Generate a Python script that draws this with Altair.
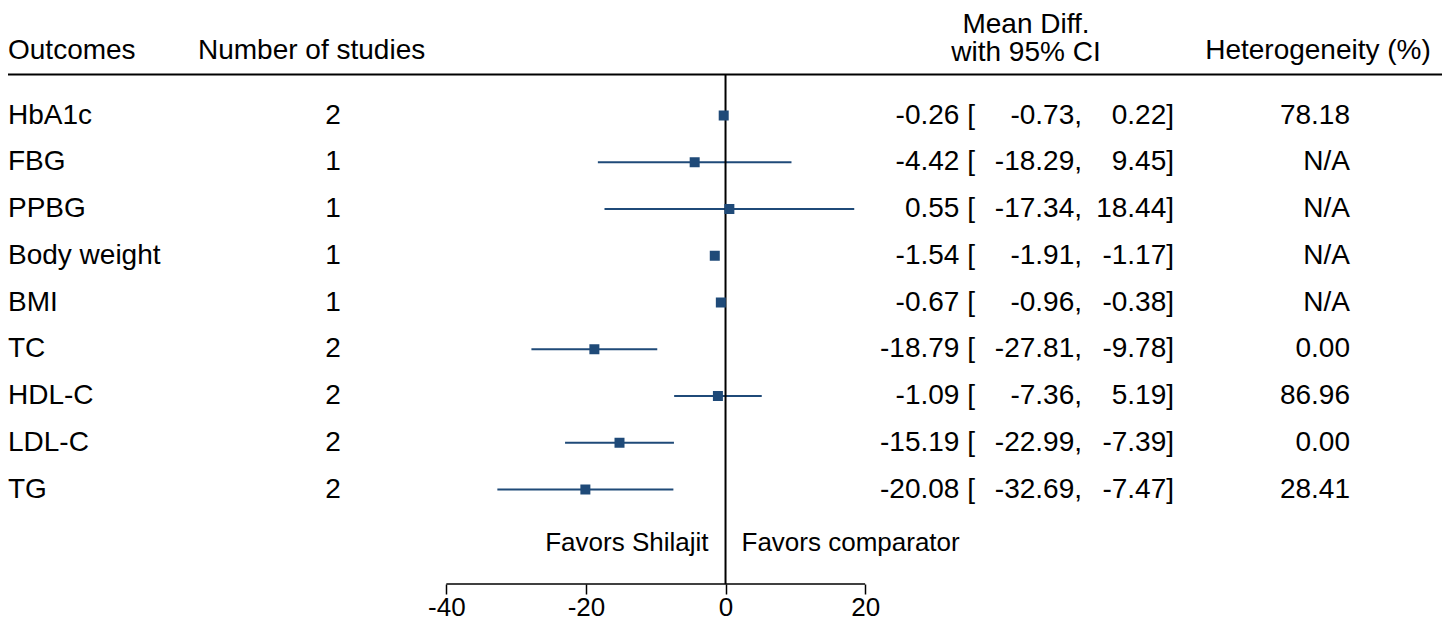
import altair as alt
import pandas as pd

# ---- data ----
outcomes = ["HbA1c", "FBG", "PPBG", "Body weight", "BMI", "TC", "HDL-C", "LDL-C", "TG"]
n_studies = [2, 1, 1, 1, 1, 2, 2, 2, 2]
mean_diff = [-0.26, -4.42, 0.55, -1.54, -0.67, -18.79, -1.09, -15.19, -20.08]
ci_low = [-0.73, -18.29, -17.34, -1.91, -0.96, -27.81, -7.36, -22.99, -32.69]
ci_high = [0.22, 9.45, 18.44, -1.17, -0.38, -9.78, 5.19, -7.39, -7.47]
heterogeneity = ["78.18", "N/A", "N/A", "N/A", "N/A", "0.00", "86.96", "0.00", "28.41"]
axis_ticks = [-40, -20, 0, 20]
favors_left = "Favors Shilajit"
favors_right = "Favors comparator"

df = pd.DataFrame({
    "outcome": outcomes,
    "n": [str(v) for v in n_studies],
    "md": mean_diff,
    "lo": ci_low,
    "hi": ci_high,
    "het": heterogeneity,
})
df["md_txt"] = [f"{v:.2f} [" for v in mean_diff]
df["lo_txt"] = [f"{v:.2f}," for v in ci_low]
df["hi_txt"] = [f"{v:.2f}]" for v in ci_high]

FONT = "Liberation Sans"
FS = 28
FS_SMALL = 26
W, H = 1434, 576
NAVY = "#1f4a78"

xscale = alt.Scale(domain=[-102.8, 102.65], nice=False, zero=False)
yenc = alt.Y("outcome:O", sort=outcomes, axis=None,
             scale=alt.Scale(type="point", range=[107.5, 481.5], padding=0))

base = alt.Chart(df)

ci = base.mark_rule(strokeWidth=2, color=NAVY).encode(
    x=alt.X("lo:Q", scale=xscale,
            axis=alt.Axis(values=axis_ticks, domain=False, grid=False, title=None,
                          ticks=True, tickSize=10, tickWidth=1.5, tickColor="black",
                          labelFontSize=FS_SMALL, labelFont=FONT, labelColor="black",
                          labelPadding=0, labelExpr="toString(datum.value)")),
    x2="hi:Q",
    y=yenc,
)
pts = base.mark_square(size=100, color=NAVY, opacity=1).encode(
    x=alt.X("md:Q", scale=xscale), y=yenc)


def col_text(field, xpos, align):
    return base.mark_text(align=align, baseline="middle", font=FONT, fontSize=FS,
                          color="black").encode(
        x=alt.value(xpos), y=yenc, text=f"{field}:N")


t_out = col_text("outcome", 0, "left")
t_n = col_text("n", 325, "center")
t_md = col_text("md_txt", 967, "right")
t_lo = col_text("lo_txt", 1074, "right")
t_hi = col_text("hi_txt", 1166, "right")
t_het = col_text("het", 1342, "right")

one = alt.Chart(pd.DataFrame({"a": [0]}))


def header(txt, xpos, ypos, align):
    return one.mark_text(text=txt, align=align, baseline="middle", font=FONT,
                         fontSize=FS, color="black").encode(
        x=alt.value(xpos), y=alt.value(ypos))


h1 = header("Outcomes", 0, 43, "left")
h2 = header("Number of studies", 190, 43, "left")
h3 = header("Mean Diff.", 1018, 17, "center")
h4 = header("with 95% CI", 1018, 45, "center")
h5 = header("Heterogeneity (%)", 1310, 43, "center")

hline = one.mark_rule(color="black", strokeWidth=2).encode(
    x=alt.value(0), x2=alt.value(W), y=alt.value(66.5))
vline = one.mark_rule(color="black", strokeWidth=2).encode(
    x=alt.datum(0, scale=xscale), y=alt.value(66.5), y2=alt.value(H))
axisline = one.mark_rule(color="black", strokeWidth=1.5).encode(
    x=alt.datum(axis_ticks[0], scale=xscale), x2=alt.datum(axis_ticks[-1]),
    y=alt.value(H))

fav_l = one.mark_text(text=favors_left, align="right", baseline="middle", dx=-17,
                      font=FONT, fontSize=FS_SMALL, color="black").encode(
    x=alt.datum(0, scale=xscale), y=alt.value(535))
fav_r = one.mark_text(text=favors_right, align="left", baseline="middle", dx=16,
                      font=FONT, fontSize=FS_SMALL, color="black").encode(
    x=alt.datum(0, scale=xscale), y=alt.value(535))

chart = alt.layer(
    ci, hline, vline, axisline, pts,
    t_out, t_n, t_md, t_lo, t_hi, t_het,
    h1, h2, h3, h4, h5, fav_l, fav_r,
).properties(
    width=W, height=H,
    autosize=alt.AutoSizeParams(type="none"),
    padding={"left": 0, "top": 0, "right": 0, "bottom": 36},
).configure(background="white").configure_view(stroke=None, strokeWidth=0)

chart.save("out.html", embed_options={"renderer": "svg", "actions": False})
